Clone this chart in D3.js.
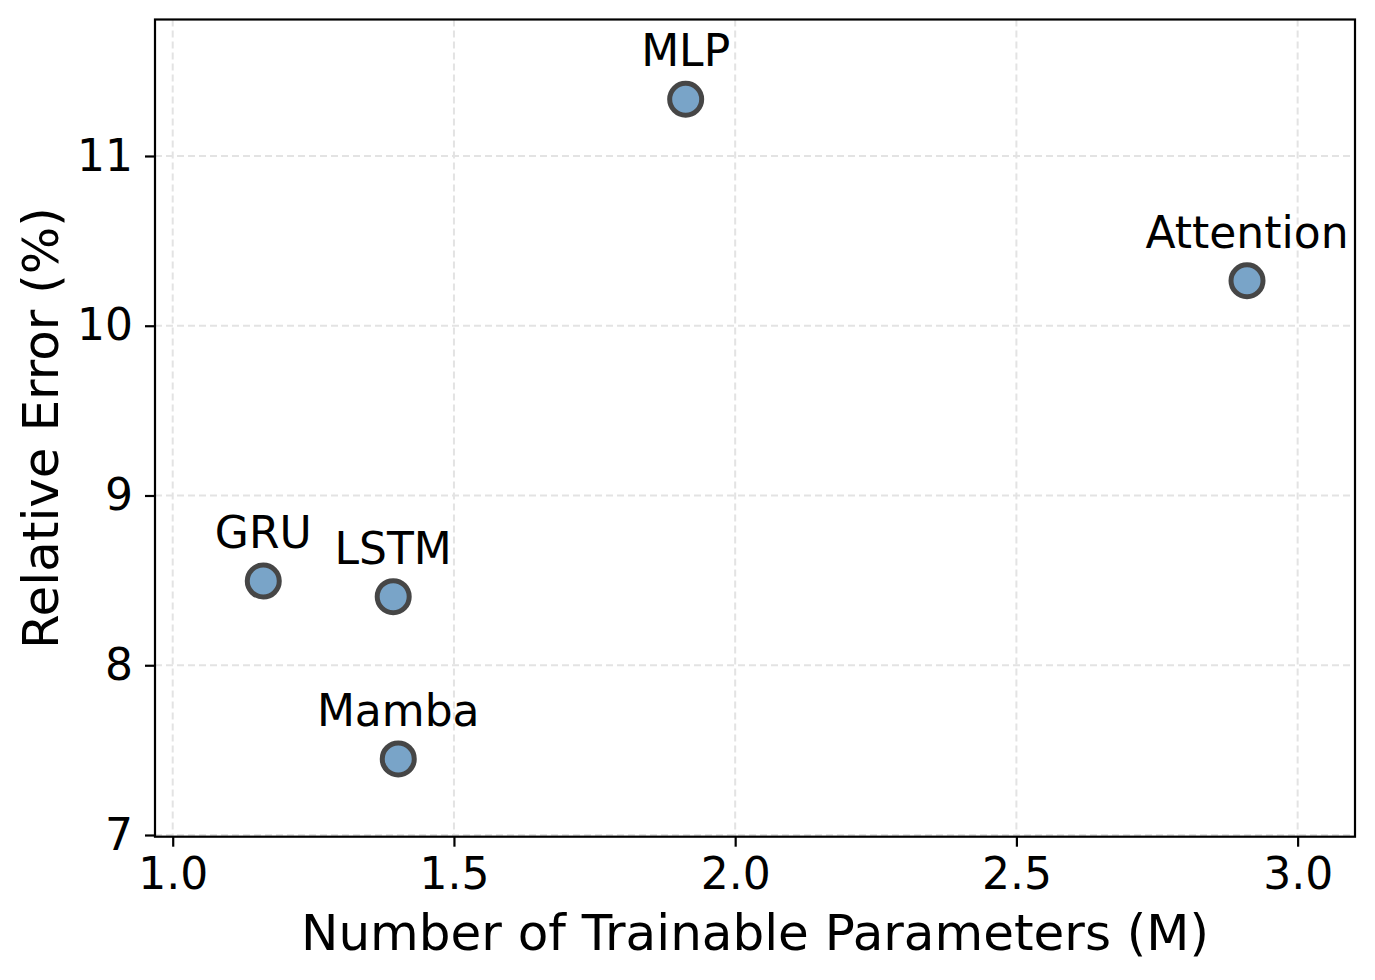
<!DOCTYPE html>
<html>
<head>
<meta charset="utf-8">
<script src="https://cdn.jsdelivr.net/npm/d3@7"></script>
<style>
  body { margin: 0; background: #fff; }
  svg text { font-family: "DejaVu Sans", sans-serif; fill: #000; }
</style>
</head>
<body>
<div id="chart"></div>
<script>
// data
var models = ['GRU', 'LSTM', 'Mamba', 'MLP', 'Attention'];
var params = [1.161, 1.392, 1.401, 1.912, 2.910];   // millions
var errors = [8.496, 8.404, 7.448, 11.334, 10.265]; // percent
var xTicks = [1.0, 1.5, 2.0, 2.5, 3.0];
var yTicks = [7, 8, 9, 10, 11];

var W = 1375, H = 980;
var margin = { left: 155, right: 20, top: 19.5, bottom: 143.3 };

var svg = d3.select('#chart').append('svg')
  .attr('width', W).attr('height', H);

var x = d3.scaleLinear().domain([0.9685, 3.102]).range([margin.left, W - margin.right]);
var y = d3.scaleLinear().domain([6.99, 11.804]).range([H - margin.bottom, margin.top]);

// grid
var grid = svg.append('g');
grid.selectAll('.gx').data(xTicks).enter().append('line')
  .attr('x1', function(d){ return x(d); }).attr('x2', function(d){ return x(d); })
  .attr('y1', margin.top).attr('y2', H - margin.bottom);
grid.selectAll('.gy').data(yTicks).enter().append('line')
  .attr('y1', function(d){ return y(d); }).attr('y2', function(d){ return y(d); })
  .attr('x1', margin.left).attr('x2', W - margin.right);
grid.selectAll('line')
  .attr('stroke', '#e3e3e3').attr('stroke-width', 2)
  .attr('stroke-dasharray', '7,4');

// axes
var xAxis = d3.axisBottom(x).tickValues(xTicks).tickFormat(d3.format('.1f'))
  .tickSize(10).tickPadding(11);
var yAxis = d3.axisLeft(y).tickValues(yTicks).tickFormat(d3.format('d'))
  .tickSize(10).tickPadding(12);

var gx = svg.append('g').attr('transform', 'translate(0,' + (H - margin.bottom) + ')').call(xAxis);
var gy = svg.append('g').attr('transform', 'translate(' + margin.left + ',0)').call(yAxis);
[gx, gy].forEach(function(g){
  g.select('.domain').remove();
  g.selectAll('.tick line').attr('stroke', '#000').attr('stroke-width', 2.2);
  g.selectAll('.tick text').style('font-size', '44px').attr('fill', '#000');
});
gx.selectAll('.tick text').attr('dy', '0.71em');

// frame
svg.append('rect')
  .attr('x', margin.left).attr('y', margin.top)
  .attr('width', W - margin.right - margin.left)
  .attr('height', H - margin.bottom - margin.top)
  .attr('fill', 'none').attr('stroke', '#000').attr('stroke-width', 2.2);

// points
var pts = models.map(function(m, i){ return { name: m, p: params[i], e: errors[i] }; });

svg.selectAll('circle.pt').data(pts).enter().append('circle')
  .attr('class', 'pt')
  .attr('cx', function(d){ return x(d.p); })
  .attr('cy', function(d){ return y(d.e); })
  .attr('r', 16)
  .attr('fill', 'steelblue')
  .attr('stroke', '#000')
  .attr('stroke-width', 5)
  .attr('opacity', 0.72);

svg.selectAll('text.lbl').data(pts).enter().append('text')
  .attr('class', 'lbl')
  .attr('x', function(d){ return x(d.p); })
  .attr('y', function(d){ return y(d.e) - 33; })
  .attr('text-anchor', 'middle')
  .style('font-size', '44px')
  .text(function(d){ return d.name; });

// axis labels
svg.append('text')
  .attr('x', (margin.left + W - margin.right) / 2)
  .attr('y', 950)
  .attr('text-anchor', 'middle')
  .style('font-size', '50px')
  .text('Number of Trainable Parameters (M)');

svg.append('text')
  .attr('transform', 'translate(58,' + ((margin.top + H - margin.bottom) / 2) + ') rotate(-90)')
  .attr('text-anchor', 'middle')
  .style('font-size', '50px')
  .text('Relative Error (%)');
</script>
</body>
</html>
